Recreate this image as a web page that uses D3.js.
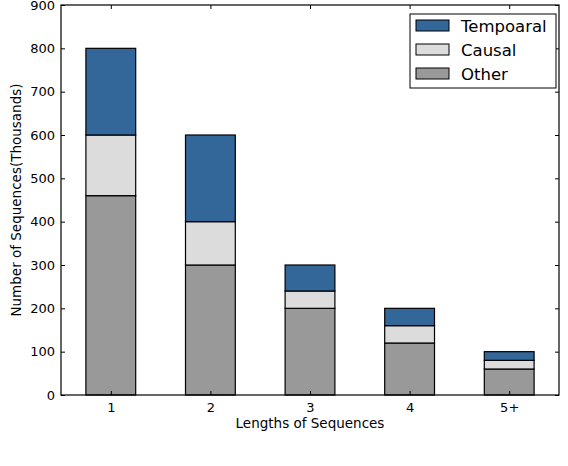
<!DOCTYPE html>
<html>
<head>
<meta charset="utf-8">
<script src="https://cdn.jsdelivr.net/npm/d3@7"></script>
<style>
  body { margin: 0; background: #fff; }
  text { font-family: "DejaVu Sans", sans-serif; fill: #000; }
</style>
</head>
<body>
<div id="chart"></div>
<script>
const categories = ["1", "2", "3", "4", "5+"];
const seriesNames = ["Other", "Causal", "Tempoaral"];
const other = [460, 300, 200, 120, 60];
const causal = [140, 100, 40, 40, 20];
const temporal = [200, 200, 60, 40, 20];
const yTicks = [0, 100, 200, 300, 400, 500, 600, 700, 800, 900];

const colors = { Other: "#999999", Causal: "#dcdcdc", Tempoaral: "#336699" };

const width = 568;
const height = 466;
const mLeft = 61, mRight = 559, mTop = 5, mBottom = 395;

const svg = d3.select("#chart").append("svg")
  .attr("width", width).attr("height", height);

const rows = categories.map((c, i) => ({
  cat: c, idx: i + 1, Other: other[i], Causal: causal[i], Tempoaral: temporal[i]
}));
const stacked = d3.stack().keys(seriesNames)(rows);

// Scales
const x = d3.scaleLinear().domain([0.5, 5.5]).range([mLeft, mRight]);
const y = d3.scaleLinear().domain([0, 900]).range([mBottom, mTop]);
const barW = x(1.25) - x(1);

// Bars
svg.selectAll(".layer")
  .data(stacked)
  .enter().append("g")
  .attr("fill", (d) => colors[d.key])
  .selectAll("rect")
  .data((d) => d)
  .enter().append("rect")
  .attr("x", (d) => x(d.data.idx) - barW)
  .attr("y", (d) => y(d[1]))
  .attr("width", barW * 2)
  .attr("height", (d) => y(d[0]) - y(d[1]))
  .attr("stroke", "#000")
  .attr("stroke-width", 1.2);

// Axes (matplotlib classic: ticks inward, on all four sides)
const xAxis = d3.axisBottom(x).tickValues([1, 2, 3, 4, 5])
  .tickFormat((d) => categories[d - 1]).tickSizeInner(-4).tickSizeOuter(0).tickPadding(8);
const yAxis = d3.axisLeft(y).tickValues(yTicks).tickSizeInner(-4).tickSizeOuter(0).tickPadding(6);

svg.append("g").attr("transform", `translate(0,${mBottom})`).call(xAxis);
svg.append("g").attr("transform", `translate(${mLeft},0)`).call(yAxis);
svg.append("g").attr("transform", `translate(0,${mTop})`)
  .call(d3.axisTop(x).tickValues([1, 2, 3, 4, 5]).tickSizeInner(-4).tickSizeOuter(0).tickFormat(""));
svg.append("g").attr("transform", `translate(${mRight},0)`)
  .call(d3.axisRight(y).tickValues(yTicks).tickSizeInner(-4).tickSizeOuter(0).tickFormat(""));

svg.selectAll(".domain").remove();
svg.selectAll(".tick line").attr("stroke", "#000");
svg.selectAll(".tick text").style("font-size", "13px").attr("fill", "#000");

// Frame
svg.append("rect")
  .attr("x", mLeft).attr("y", mTop)
  .attr("width", mRight - mLeft).attr("height", mBottom - mTop)
  .attr("fill", "none").attr("stroke", "#000").attr("stroke-width", 1.2);

// Axis labels
svg.append("text")
  .attr("x", (mLeft + mRight) / 2).attr("y", 428)
  .attr("text-anchor", "middle").style("font-size", "13.5px")
  .text("Lengths of Sequences");

svg.append("text")
  .attr("transform", `translate(21,${(mTop + mBottom) / 2}) rotate(-90)`)
  .attr("text-anchor", "middle").style("font-size", "13.5px")
  .text("Number of Sequences(Thousands)");

// Legend
const legend = svg.append("g").attr("transform", "translate(410,14)");
legend.append("rect")
  .attr("width", 146).attr("height", 74)
  .attr("fill", "#fff").attr("stroke", "#000").attr("stroke-width", 1);
const legendItems = ["Tempoaral", "Causal", "Other"];
legendItems.forEach((name, i) => {
  const ly = 12 + i * 24;
  legend.append("rect")
    .attr("x", 6).attr("y", ly - 6)
    .attr("width", 33).attr("height", 11)
    .attr("fill", colors[name]).attr("stroke", "#000").attr("stroke-width", 1);
  legend.append("text")
    .attr("x", 51).attr("y", ly + 6)
    .style("font-size", "16.5px")
    .text(name);
});
</script>
</body>
</html>
